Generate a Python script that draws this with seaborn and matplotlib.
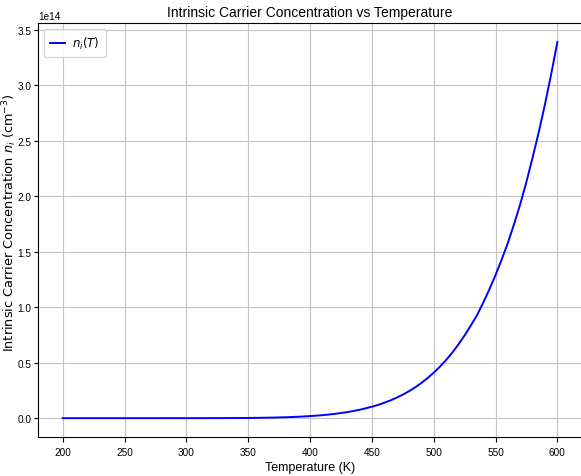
import matplotlib
matplotlib.use("Agg")
import matplotlib.pyplot as plt
import seaborn as sns
import pandas as pd

# Temperature (K) and intrinsic carrier concentration (x1e14 cm^-3)
temperature = [200, 210, 220, 230, 240, 250, 260, 270, 280, 290,
               300, 310, 320, 330, 340, 350, 360, 370, 380, 390,
               400, 410, 420, 430, 440, 450, 455, 460, 465, 470, 475, 480, 485, 490, 495,
               500, 505, 510, 515, 520, 525, 530, 535, 540, 545, 550, 555, 560, 565,
               570, 575, 580, 585, 590, 595, 600]
ni_e14 = [0.0, 0.0, 0.0, 0.0, 0.0, 0.000002, 0.000005, 0.00001, 0.00002, 0.00005,
          0.00011, 0.00022, 0.00041, 0.00074, 0.00127, 0.00212, 0.00343, 0.0054, 0.00832, 0.01256,
          0.0186, 0.027, 0.0385, 0.0542, 0.0751, 0.103, 0.1195, 0.139, 0.160, 0.185, 0.212, 0.243, 0.278, 0.317, 0.361,
          0.41, 0.464, 0.524, 0.591, 0.665, 0.746, 0.835, 0.928, 1.04, 1.16, 1.29, 1.43, 1.58, 1.75,
          1.93, 2.13, 2.35, 2.58, 2.83, 3.10, 3.39]
ni = [v * 1e14 for v in ni_e14]

series_label = r"$n_i(T)$"
title = "Intrinsic Carrier Concentration vs Temperature"
xlabel = "Temperature (K)"
ylabel = r"Intrinsic Carrier Concentration $n_i$ (cm$^{-3}$)"

df = pd.DataFrame({"T": temperature, "ni": ni})

plt.rcParams["font.family"] = ["Liberation Sans", "DejaVu Sans"]
plt.rcParams["mathtext.fontset"] = "dejavusans"

fig = plt.figure(figsize=(5.81, 4.77), dpi=100)
ax = fig.add_axes([0.0654, 0.0818, 0.9365, 0.8675])

sns.lineplot(data=df, x="T", y="ni", color="blue", linewidth=1.4,
             label=series_label, ax=ax)

ax.grid(True, color="#c4c4c4", linewidth=0.8)
ax.set_axisbelow(True)
ax.set_title(title, fontsize=10, pad=5)
ax.set_xlabel(xlabel, fontsize=9, labelpad=3)
ax.set_ylabel(ylabel, fontsize=9.3, family="DejaVu Sans")
ax.yaxis.set_label_coords(-0.0345, 0.52)
ax.tick_params(labelsize=7.2)
ax.tick_params(axis="y", pad=1.5, length=3)
ax.yaxis.get_offset_text().set_fontsize(7.2)
ax.legend(loc="upper left", fontsize=8.5, handlelength=1.3,
          handletextpad=0.6, borderpad=0.5)

fig.savefig("out.png", dpi=100)
